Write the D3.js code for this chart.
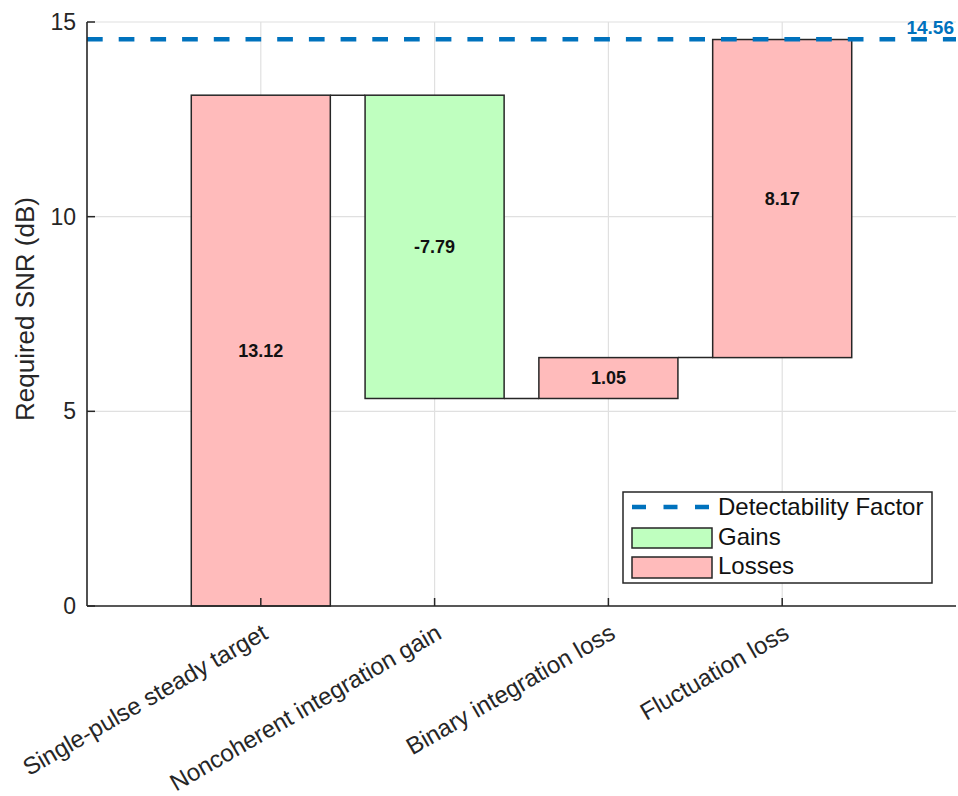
<!DOCTYPE html>
<html><head><meta charset="utf-8">
<script src="https://cdn.jsdelivr.net/npm/d3@7"></script>
<style>body{margin:0;background:#fff;}svg{display:block;font-family:"Liberation Sans",Arial,sans-serif;}</style>
</head><body>
<script>
const categories = ["Single-pulse steady target","Noncoherent integration gain","Binary integration loss","Fluctuation loss"];
const values = [13.12, -7.79, 1.05, 8.17];
const labels = ["13.12","-7.79","1.05","8.17"];
const detectability = 14.56;
const yTicks = [0,5,10,15];
const legendItems = ["Detectability Factor","Gains","Losses"];

const W=958,H=796;
const svg=d3.select("body").append("svg").attr("width",W).attr("height",H);
const x=d3.scaleLinear().domain([0,5]).range([87,956]);
const y=d3.scaleLinear().domain([0,15]).range([606,22]);
const step=x(1)-x(0), bw=step*0.8;
const pink="#ffbbbb", green="#bfffbf", blue="#0072bd", dark="#262626", grid="#e0e0e0";

// grid
svg.append("g").selectAll("line").data(yTicks).join("line")
 .attr("x1",x(0)).attr("x2",x(5)).attr("y1",d=>y(d)).attr("y2",d=>y(d)).attr("stroke",grid).attr("stroke-width",1.2);
svg.append("g").selectAll("line").data(categories).join("line")
 .attr("x1",(d,i)=>x(i+1)).attr("x2",(d,i)=>x(i+1)).attr("y1",y(0)).attr("y2",y(15)).attr("stroke",grid).attr("stroke-width",1.2);

// cumulative
let cum=0; const bars=values.map((v,i)=>{const s=cum; cum+=v; return {i,start:s,end:cum,v,label:labels[i]};});

// connectors
svg.append("g").selectAll("line").data(bars.slice(0,-1)).join("line")
 .attr("x1",d=>x(d.i+1)+bw/2).attr("x2",d=>x(d.i+2)-bw/2)
 .attr("y1",d=>y(d.end)).attr("y2",d=>y(d.end)).attr("stroke",dark).attr("stroke-width",1.5);

svg.append("g").selectAll("rect").data(bars).join("rect")
 .attr("x",d=>x(d.i+1)-bw/2).attr("width",bw)
 .attr("y",d=>y(Math.max(d.start,d.end))).attr("height",d=>Math.abs(y(d.start)-y(d.end)))
 .attr("fill",d=>d.v<0?green:pink).attr("stroke",dark).attr("stroke-width",1.5);

svg.append("g").selectAll("text").data(bars).join("text")
 .attr("x",d=>x(d.i+1)).attr("y",d=>y((d.start+d.end)/2)).attr("dy","0.35em")
 .attr("text-anchor","middle").attr("font-weight","bold").attr("font-size",18).attr("fill","#111")
 .text(d=>d.label);

// detectability line
svg.append("line").attr("x1",x(0)).attr("x2",x(5)).attr("y1",y(detectability)).attr("y2",y(detectability))
 .attr("stroke",blue).attr("stroke-width",4.5).attr("stroke-dasharray","15.7,16");
svg.append("text").attr("x",954).attr("y",y(detectability)-5).attr("text-anchor","end")
 .attr("font-weight","bold").attr("font-size",19).attr("fill",blue).text(detectability.toFixed(2));

// axes
svg.append("line").attr("x1",x(0)).attr("x2",x(0)).attr("y1",y(0)).attr("y2",y(15)).attr("stroke",dark).attr("stroke-width",1.6);
svg.append("line").attr("x1",x(0)).attr("x2",x(5)).attr("y1",y(0)).attr("y2",y(0)).attr("stroke",dark).attr("stroke-width",1.6);
svg.append("g").selectAll("line").data(yTicks).join("line")
 .attr("x1",x(0)).attr("x2",x(0)+8).attr("y1",d=>y(d)).attr("y2",d=>y(d)).attr("stroke",dark).attr("stroke-width",1.5);
svg.append("g").selectAll("line").data(categories).join("line")
 .attr("x1",(d,i)=>x(i+1)).attr("x2",(d,i)=>x(i+1)).attr("y1",y(0)).attr("y2",y(0)-8).attr("stroke",dark).attr("stroke-width",1.5);
svg.append("g").selectAll("text").data(yTicks).join("text")
 .attr("x",76).attr("y",d=>y(d)).attr("dy","0.35em").attr("text-anchor","end").attr("font-size",23).attr("fill",dark).text(d=>d);
svg.append("g").selectAll("text").data(categories).join("text")
 .attr("transform",(d,i)=>`translate(${x(i+1)},${y(0)+17}) rotate(-30)`)
 .attr("text-anchor","end").attr("dy","0.7em").attr("font-size",24).attr("fill",dark).text(d=>d);
svg.append("text").attr("transform",`translate(34,309) rotate(-90)`).attr("text-anchor","middle")
 .attr("font-size",26).attr("fill",dark).text("Required SNR (dB)");

// legend
const lg=svg.append("g").attr("transform","translate(623,492)");
lg.append("rect").attr("width",309).attr("height",91).attr("fill","#fff").attr("stroke",dark).attr("stroke-width",1.5);
lg.append("line").attr("x1",9).attr("x2",88).attr("y1",15).attr("y2",15).attr("stroke",blue).attr("stroke-width",4.5).attr("stroke-dasharray","14,17.5");
lg.append("rect").attr("x",9).attr("y",36).attr("width",80).attr("height",20).attr("fill",green).attr("stroke",dark).attr("stroke-width",1.5);
lg.append("rect").attr("x",9).attr("y",65).attr("width",80).attr("height",21).attr("fill",pink).attr("stroke",dark).attr("stroke-width",1.5);
lg.selectAll("text.l").data(legendItems).join("text").attr("class","l")
 .attr("x",95).attr("y",(d,i)=>[15,45,74][i]).attr("dy","0.35em").attr("font-size",24).attr("fill","#111").text(d=>d);
</script>
</body></html>
